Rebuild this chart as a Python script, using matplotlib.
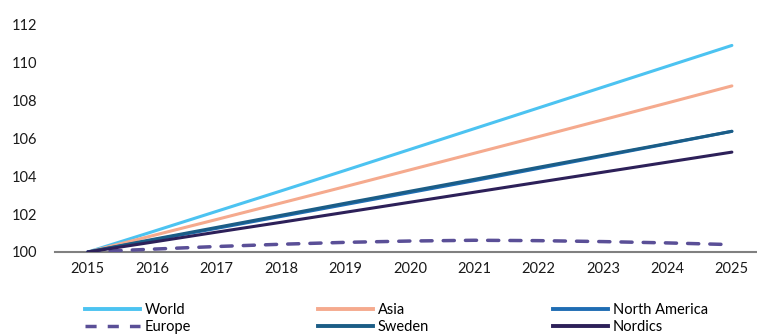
import matplotlib
matplotlib.use("Agg")
import matplotlib.pyplot as plt
from matplotlib.lines import Line2D

plt.rcParams['font.family'] = ['Lato', 'DejaVu Sans']

years = [2015, 2016, 2017, 2018, 2019, 2020, 2021, 2022, 2023, 2024, 2025]
world = [100.0, 101.07, 102.15, 103.23, 104.32, 105.42, 106.52, 107.62, 108.72, 109.82, 110.92]
asia = [100.0, 100.86, 101.72, 102.59, 103.46, 104.34, 105.22, 106.10, 106.99, 107.88, 108.78]
north_america = [100.0, 100.63, 101.25, 101.88, 102.51, 103.14, 103.77, 104.42, 105.07, 105.72, 106.38]
europe = [100.0, 100.15, 100.29, 100.41, 100.51, 100.58, 100.62, 100.60, 100.55, 100.48, 100.39]
sweden = [100.0, 100.66, 101.30, 101.94, 102.58, 103.21, 103.84, 104.48, 105.11, 105.74, 106.38]
nordics = [100.0, 100.52, 101.05, 101.57, 102.10, 102.63, 103.16, 103.69, 104.22, 104.75, 105.28]

labels = ["World", "Asia", "North America", "Europe", "Sweden", "Nordics"]
colors = ["#4cc3f1", "#f5aa8e", "#1f6db3", "#5a4f97", "#1b5d86", "#2d2059"]
y_ticks = [100, 102, 104, 106, 108, 110, 112]

W, H = 757, 334
fig = plt.figure(figsize=(W / 100, H / 100), dpi=100)
ax = fig.add_axes([55 / W, 1 - 252 / H, 1 - 55 / W, (252 - 25) / H])

lw = 2.2
series = [world, asia, north_america, europe, sweden, nordics]
handles = []
for vals, lab, col in zip(series, labels, colors):
    if lab == "Europe":
        ln, = ax.plot(years, vals, color=col, lw=lw + 0.3, dashes=(3.2, 3.2),
                      solid_capstyle='butt', dash_capstyle='round', label=lab)
    else:
        ln, = ax.plot(years, vals, color=col, lw=lw, solid_capstyle='round', label=lab)
    handles.append(ln)

ax.set_xlim(2014.49, 2025.39)
ax.set_ylim(100, 112)
ax.set_xticks(years)
ax.set_yticks(y_ticks)
ax.tick_params(axis='both', length=0, labelsize=10.5, colors='#1a1a1a')
ax.tick_params(axis='y', pad=13)
ax.tick_params(axis='x', pad=7)
for s in ['top', 'right', 'left']:
    ax.spines[s].set_visible(False)
ax.spines['bottom'].set_color('#808080')
ax.spines['bottom'].set_linewidth(1.5)
ax.spines['bottom'].set_zorder(1)
for ln in handles:
    ln.set_zorder(3)

# legend: three columns of two entries
cols_x = [85, 318, 553]
pairs = [(0, 3), (1, 4), (2, 5)]
for cx, (a, b) in zip(cols_x, pairs):
    hs = []
    for i in (a, b):
        if labels[i] == "Europe":
            hs.append(Line2D([], [], color=colors[i], lw=lw + 0.3, dashes=(3.2, 3.2)))
        else:
            hs.append(Line2D([], [], color=colors[i], lw=lw + 0.6))
    fig.legend(hs, [labels[a], labels[b]], loc='upper left',
               bbox_to_anchor=(cx / W, 1 - 303 / H), frameon=False,
               fontsize=10.5, handlelength=3.8, handletextpad=0.3,
               labelspacing=0.2, borderpad=0, borderaxespad=0)

fig.savefig("out.png", dpi=100)
